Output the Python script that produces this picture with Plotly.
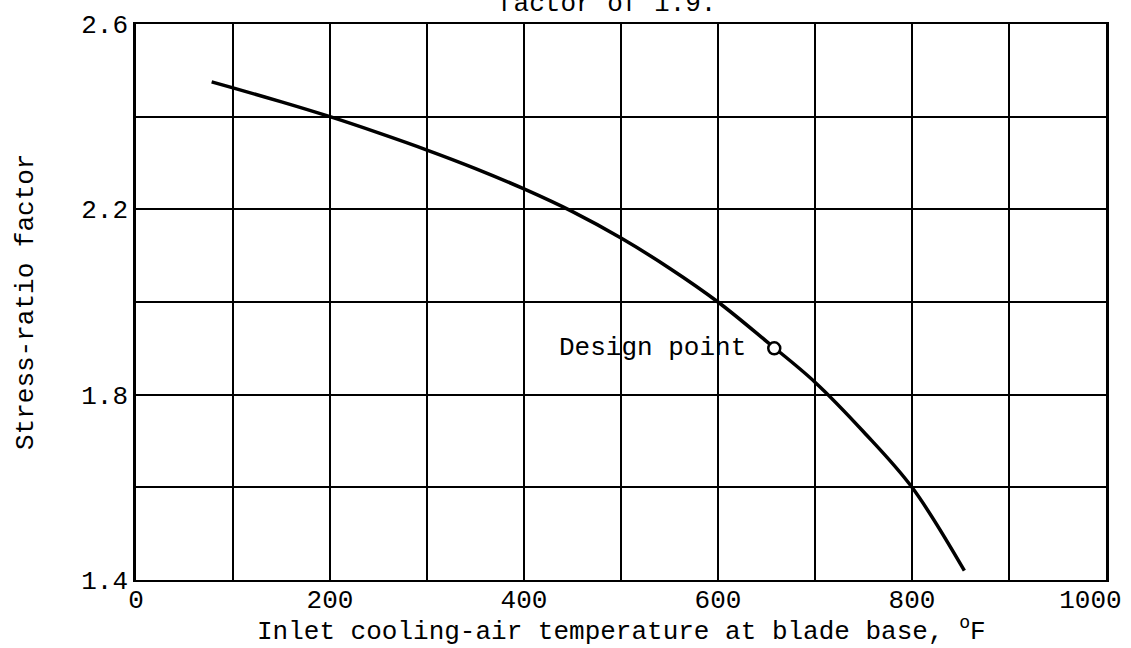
import plotly.graph_objects as go

# Curve data
temp_f = [78, 100, 150, 200, 250, 300, 350, 400, 450, 500, 550, 600, 650, 700, 750, 800, 854]
stress_ratio = [2.475, 2.462, 2.432, 2.400, 2.365, 2.328, 2.288, 2.244, 2.195, 2.138, 2.073, 2.000, 1.915, 1.827, 1.720, 1.600, 1.420]

design_x = [658]
design_y = [1.90]

x_tickvals = [0, 100, 200, 300, 400, 500, 600, 700, 800, 900, 1000]
x_ticktext = ["0", "", "200", "", "400", "", "600", "", "800", "", "1000\u00a0\u00a0"]
y_tickvals = [1.4, 1.6, 1.8, 2.0, 2.2, 2.4, 2.6]
y_ticktext = ["1.4", "", "1.8", "", "2.2", "", "2.6"]

x_title = "Inlet cooling-air temperature at blade base, <sup>o</sup>F"
y_title = "Stress-ratio factor"
top_text = "factor of 1.9."

FONT = "Liberation Mono"
F26 = dict(family=FONT, size=26, color="black")

fig = go.Figure()
fig.add_trace(go.Scatter(
    x=temp_f, y=stress_ratio, mode="lines",
    line=dict(color="black", width=3.5, shape="spline", smoothing=1.0),
    showlegend=False, hoverinfo="skip"))
fig.add_trace(go.Scatter(
    x=design_x, y=design_y, mode="markers",
    marker=dict(symbol="circle", size=12, color="white",
                line=dict(color="black", width=2.5)),
    showlegend=False))

fig.add_annotation(x=design_x[0], y=design_y[0], text="Design point",
                   showarrow=False, xanchor="right", yanchor="middle",
                   xshift=-26, font=F26)

fig.add_annotation(xref="paper", yref="paper", x=0.486, y=1.0,
                   text=top_text, showarrow=False,
                   xanchor="center", yanchor="bottom", yshift=3, font=F26)

fig.add_annotation(xref="paper", yref="paper", x=0.5, y=0.0,
                   text=x_title, showarrow=False,
                   xanchor="center", yanchor="middle", yshift=-50, font=F26)

fig.add_annotation(xref="paper", yref="paper", x=0.0, y=0.5,
                   text=y_title, showarrow=False, textangle=-90,
                   xanchor="center", yanchor="middle", xshift=-110, font=F26)

fig.update_xaxes(range=[0, 1000], tickvals=x_tickvals, ticktext=x_ticktext,
                 showgrid=True, gridcolor="black", gridwidth=1.5,
                 showline=True, linecolor="black", linewidth=2, mirror=True,
                 ticks="", zeroline=False, ticklabeloverflow="allow",
                 ticklabelstandoff=-5,
                 automargin=False, tickfont=F26)
fig.update_yaxes(range=[1.4, 2.6], tickvals=y_tickvals, ticktext=y_ticktext,
                 showgrid=True, gridcolor="black", gridwidth=1.5,
                 showline=True, linecolor="black", linewidth=2.5, mirror=True,
                 ticks="", zeroline=False, automargin=False, tickfont=F26)

fig.update_layout(width=1131, height=648,
                  margin=dict(l=136, r=25, t=24, b=68),
                  paper_bgcolor="white", plot_bgcolor="white")

fig.write_html("out.html", config={"displayModeBar": False},
               post_script="document.body.style.margin='0';")
